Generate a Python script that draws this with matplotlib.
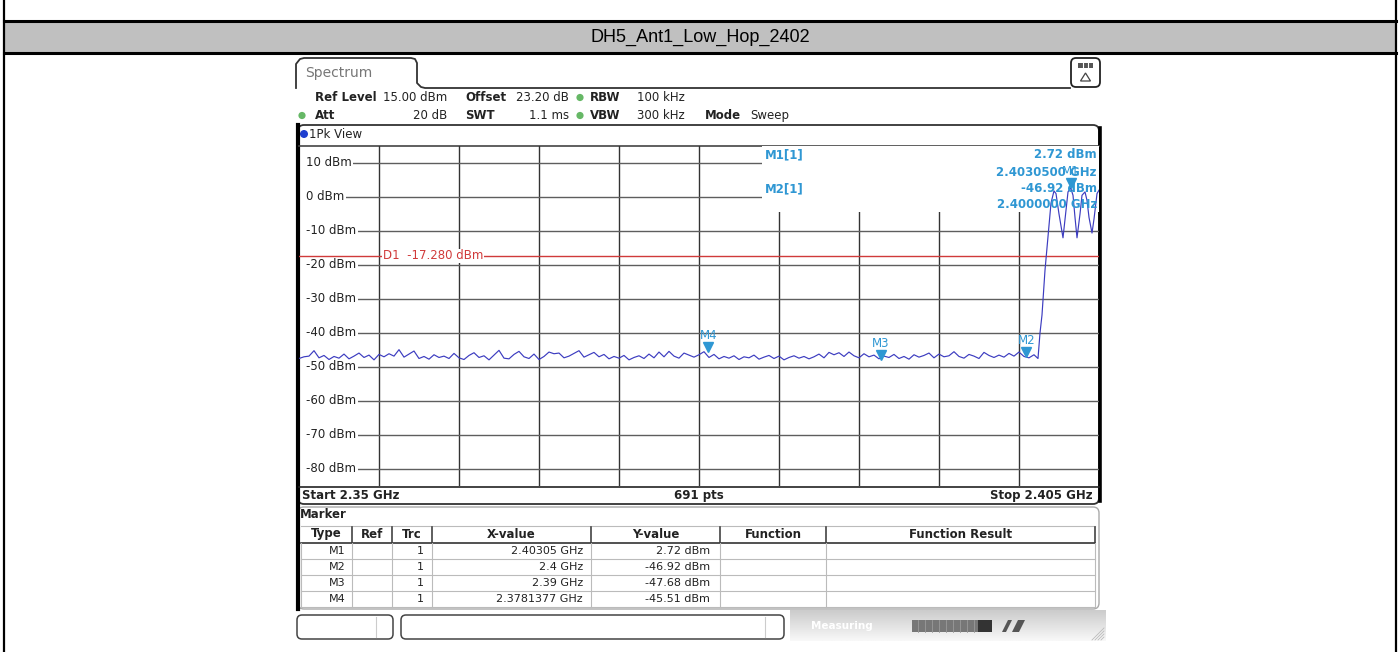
import numpy as np
import matplotlib
matplotlib.use('Agg')
import matplotlib.pyplot as plt
from matplotlib.patches import Rectangle, FancyBboxPatch, Circle, Polygon
from matplotlib.transforms import offset_copy, blended_transform_factory

# ---- data ----
title = 'DH5_Ant1_Low_Hop_2402'

f_start = 2.35      # GHz
f_stop = 2.405      # GHz
ref_level = 15.0    # dBm
range_db = 100.0
y_ticks = [10, 0, -10, -20, -30, -40, -50, -60, -70, -80]
d1_level = -17.28

# noise floor, equally spaced sweep points from 2.35 GHz up to noise_stop
noise_stop = 2.40053
noise_dbm = [
    -47.5, -47.0, -46.8, -45.2, -47.3, -46.6, -47.8, -46.9, -47.4, -46.2,
    -47.6, -46.8, -45.9, -47.2, -46.5, -47.9, -46.3, -47.0, -46.1, -46.8,
    -44.9, -47.1, -46.2, -45.3, -47.5, -46.9, -47.7, -46.4, -47.2, -46.8,
    -47.5, -46.0, -47.3, -47.8, -46.6, -45.8, -47.2, -46.7, -47.9, -46.5,
    -45.1, -47.4, -47.6, -46.3, -45.4, -47.0, -47.5, -46.2, -47.8, -46.9,
    -45.6, -46.1, -45.9, -47.3, -46.8, -46.0, -45.2, -47.1, -46.4, -45.7,
    -47.0, -46.3, -47.6, -46.9, -47.4, -46.6, -47.9, -47.2, -46.7, -47.5,
    -46.2, -47.3, -45.6, -47.0, -45.4, -46.8, -47.4, -45.9, -46.5, -47.1,
    -46.4, -45.5, -47.2, -46.3, -47.6, -46.9, -47.4, -46.7, -47.8, -47.0,
    -47.3, -46.5, -47.7, -47.1, -46.6, -47.5, -46.8, -47.9, -47.2, -46.7,
    -47.4, -46.9, -47.6, -47.0, -46.2, -47.3, -45.7, -46.4, -45.8, -46.9,
    -45.6, -46.7, -47.3, -46.1, -47.0, -46.5, -47.6, -46.8, -47.2, -46.3,
    -47.5, -46.9, -47.7, -46.4, -47.1, -46.6, -45.9, -47.3, -46.2, -47.0,
    -46.7, -45.5, -46.9, -47.4, -46.3, -46.8, -47.5, -45.7, -46.6, -47.2,
    -46.5, -47.1, -46.0, -46.8, -45.6, -46.9, -47.3, -46.4,
]

# band edge and the hopping channels above 2.4 GHz
edge_ghz = [2.400806, 2.400944, 2.401081, 2.401288, 2.401494, 2.401700,
            2.401906, 2.402044, 2.402250, 2.402525, 2.402731, 2.402869,
            2.403050, 2.403213, 2.403350, 2.403488, 2.403694, 2.403831,
            2.404038, 2.404175, 2.404313, 2.404519, 2.404656, 2.404863,
            2.405000]
edge_dbm = [-47.5, -40.0, -34.7, -21.5, -11.8, -1.8,
            1.8, 1.0, -5.0, -12.0, -4.0, 1.5,
            2.72, 0.5, -6.0, -12.0, -5.0, 0.5,
            1.5, -1.0, -6.0, -10.6, -6.5, 1.0,
            2.0]

marker_names = ['M1', 'M2', 'M3', 'M4']
marker_ghz = [2.40305, 2.4, 2.39, 2.3781377]
marker_dbm = [2.72, -46.92, -47.68, -45.51]
marker_x_text = ['2.40305 GHz', '2.4 GHz', '2.39 GHz', '2.3781377 GHz']
marker_y_text = ['2.72 dBm', '-46.92 dBm', '-47.68 dBm', '-45.51 dBm']

MK = '#2f97d3'
TRACE = '#3c3cc0'
GREEN = '#66b866'
FONT = 'DejaVu Sans'

fig = plt.figure(figsize=(14, 6.52), dpi=100)
bg = fig.add_axes([0, 0, 1, 1])
bg.set_xlim(0, 1400)
bg.set_ylim(652, 0)
bg.axis('off')


def txt(x, y, s, size=8.5, weight='normal', color='#222222', ha='left', **kw):
    bg.text(x, y, s, fontsize=size, fontweight=weight, color=color, ha=ha,
            va='center', family=FONT, **kw)


# ---- document table around the screenshot ----
bg.add_patch(Rectangle((4, 21), 1392, 32, fc='#c0c0c0', ec='none'))
bg.plot([4, 1396], [21, 21], color='k', lw=2.2)
bg.plot([4, 1396], [53, 53], color='k', lw=2.2)
bg.plot([4, 4], [0, 652], color='k', lw=1.6)
bg.plot([1396, 1396], [0, 652], color='k', lw=1.6)
bg.text(700, 37.5, title, ha='center', va='center', fontsize=13,
        family=['Liberation Sans Narrow', 'Liberation Sans'])

# ---- "Spectrum" tab and settings header ----
tab_x = [296, 296, 300, 304, 411, 415, 417, 417, 421, 425, 1070]
tab_y = [88, 64, 59, 58, 58, 59, 63, 83, 87, 88, 88]
bg.plot(tab_x, tab_y, color='#333333', lw=1.3)
txt(305, 73, 'Spectrum', size=10, color='#777777')
bg.add_patch(FancyBboxPatch((1071, 58), 29, 29,
             boxstyle='round,pad=0,rounding_size=5',
             fc='white', ec='#222222', lw=1.3))
bg.add_patch(Rectangle((1078, 63), 15, 5, fc='#555555', ec='none'))
for xs in (1083, 1088):
    bg.plot([xs, xs], [63, 68], color='white', lw=0.8)
bg.add_patch(Polygon([[1080.5, 81], [1090.5, 81], [1085.5, 73]],
             closed=True, fc='white', ec='#444444', lw=0.9))

row1, row2 = 97.5, 115.5
txt(315, row1, 'Ref Level', weight='bold')
txt(447, row1, '15.00 dBm', ha='right')
txt(465, row1, 'Offset', weight='bold')
txt(569, row1, '23.20 dB', ha='right')
txt(590, row1, 'RBW', weight='bold')
txt(637, row1, '100 kHz')
txt(315, row2, 'Att', weight='bold')
txt(447, row2, '20 dB', ha='right')
txt(465, row2, 'SWT', weight='bold')
txt(569, row2, '1.1 ms', ha='right')
txt(590, row2, 'VBW', weight='bold')
txt(637, row2, '300 kHz')
txt(705, row2, 'Mode', weight='bold')
txt(750, row2, 'Sweep')
for cx, cy in [(580, row1), (580, row2), (302, row2)]:
    bg.add_patch(Circle((cx, cy), 3.6, fc=GREEN, ec='none'))

# ---- diagram frame ----
bg.add_patch(FancyBboxPatch((298, 125), 801, 379,
             boxstyle='round,pad=0,rounding_size=6',
             fc='white', ec='#333333', lw=1.3))
bg.plot([298, 298], [125, 609], color='k', lw=3.0)
bg.plot([1099.5, 1099.5], [128, 501], color='k', lw=2.6)
bg.plot([299, 1099], [145.5, 145.5], color='#444444', lw=1.2)
bg.plot([299, 1099], [486.5, 486.5], color='#222222', lw=1.2)
bg.add_patch(Circle((304, 134), 4, fc='#1f3fd0', ec='none'))
txt(309, 134, '1Pk View', size=8.5)
txt(302, 495.5, 'Start 2.35 GHz', weight='bold')
txt(699, 495.5, '691 pts', weight='bold', ha='center')
txt(1093, 495.5, 'Stop 2.405 GHz', weight='bold', ha='right')

# ---- trace axes ----
ax = fig.add_axes([299 / 1400, 1 - 486 / 652, 800 / 1400, 340 / 652])
ax.set_zorder(2)
ax.patch.set_alpha(0)
ax.set_xlim(f_start, f_stop)
ax.set_ylim(ref_level - range_db, ref_level)
ax.axis('off')

div = (f_stop - f_start) / 10
px = (f_stop - f_start) / 800
for k in range(1, 10):
    ax.axvline(f_start + k * div, color='#333333', lw=1.0, zorder=1)
# level lines start right after their labels
ax.hlines(y_ticks, f_start + 8 * px, f_stop, color='#5e5e5e', lw=1.0, zorder=1)
# marker info field hides the grid behind it
ax.add_patch(Rectangle((463 / 800, 1 - 66 / 340), 337 / 800, 66 / 340,
             transform=ax.transAxes, fc='white', ec='none', zorder=1.5))

ytr = blended_transform_factory(ax.transAxes, ax.transData)
for yv in y_ticks:
    ax.text(0.009, yv, f'{yv} dBm', transform=ytr, ha='left', va='center',
            fontsize=8.5, family=FONT, color='#222222', zorder=2,
            bbox=dict(fc='white', ec='none', pad=1.0))

ax.axhline(d1_level, color='#d03a3a', lw=1.0, zorder=2)
ax.text(84 / 800, d1_level, f'D1  {d1_level:.3f} dBm', transform=ytr,
        ha='left', va='center', fontsize=8.5, family=FONT, color='#d03a3a',
        zorder=2.2, bbox=dict(fc='white', ec='none', pad=0.4))

trace_f = np.concatenate([np.linspace(f_start, noise_stop, len(noise_dbm)), edge_ghz])
trace_v = np.concatenate([noise_dbm, edge_dbm])
ax.plot(trace_f, trace_v, color=TRACE, lw=0.85, zorder=3)

tri_tr = offset_copy(ax.transData, fig=fig, x=0, y=3.3, units='points')
lab_tr = offset_copy(ax.transData, fig=fig, x=0, y=11.5, units='points')
ax.plot(marker_ghz, marker_dbm, 'v', ms=6.5, color=MK, transform=tri_tr,
        zorder=4, clip_on=False)
for name, fg, fv in zip(marker_names, marker_ghz, marker_dbm):
    ax.text(fg, fv, name, transform=lab_tr, ha='center', va='center',
            fontsize=8.5, family=FONT, color=MK, zorder=4)

# marker info field
top = fig.add_axes([0, 0, 1, 1])
top.set_zorder(5)
top.patch.set_alpha(0)
top.set_xlim(0, 1400)
top.set_ylim(652, 0)
top.axis('off')
info = [(155, 'M1[1]', f'{marker_dbm[0]:.2f} dBm'),
        (172, None, f'{marker_ghz[0]:.7f} GHz'),
        (188.5, 'M2[1]', f'{marker_dbm[1]:.2f} dBm'),
        (205, None, f'{marker_ghz[1]:.7f} GHz')]
for yy, left, right in info:
    if left:
        top.text(765, yy, left, ha='left', va='center', fontsize=8.5,
                 fontweight='bold', family=FONT, color=MK)
    top.text(1097, yy, right, ha='right', va='center', fontsize=8.5,
             fontweight='bold', family=FONT, color=MK)

# ---- marker table ----
bg.add_patch(FancyBboxPatch((298, 507), 801, 102,
             boxstyle='round,pad=0,rounding_size=6',
             fc='white', ec='#aaaaaa', lw=1.0))
txt(300, 515, 'Marker', weight='bold')
seps = [352, 392, 432, 591, 720, 826, 1095]
hdr_y = 534
bg.plot([301, 1095], [526, 526], color='#bbbbbb', lw=0.8)
bg.plot([301, 1095], [542.5, 542.5], color='#333333', lw=1.2)
for sx in seps:
    bg.plot([sx, sx], [527, 542], color='#333333', lw=1.1)
    bg.plot([sx, sx], [543, 607], color='#bbbbbb', lw=0.8)
bg.plot([301, 301], [543, 607], color='#bbbbbb', lw=0.8)
headers = ['Type', 'Ref', 'Trc', 'X-value', 'Y-value', 'Function', 'Function Result']
col_l = [301] + seps[:-1]
for h, l, r in zip(headers, col_l, seps):
    txt((l + r) / 2, hdr_y, h, weight='bold', ha='center')

row_y = [551, 567, 583, 599]
for ly in [559, 575, 591, 607]:
    bg.plot([301, 1095], [ly, ly], color='#bbbbbb', lw=0.8)
for ry, name, xs, ys in zip(row_y, marker_names, marker_x_text, marker_y_text):
    txt(346, ry, name, size=8, ha='right')
    txt(424, ry, '1', size=8, ha='right')
    txt(583, ry, xs, size=8, ha='right')
    txt(710, ry, ys, size=8, ha='right')

# ---- status bar ----
bg.add_patch(FancyBboxPatch((297, 615), 96, 24,
             boxstyle='round,pad=0,rounding_size=5',
             fc='white', ec='#444444', lw=1.1))
bg.add_patch(FancyBboxPatch((401, 615), 383, 24,
             boxstyle='round,pad=0,rounding_size=5',
             fc='white', ec='#444444', lw=1.1))
bg.plot([376, 376], [617, 637], color='#cccccc', lw=0.8)
bg.plot([765, 765], [617, 637], color='#cccccc', lw=0.8)
grad = np.linspace(0.80, 0.97, 30).reshape(-1, 1)
bg.imshow(np.repeat(grad, 2, axis=1), cmap='gray', vmin=0, vmax=1,
          extent=(790, 1106, 641, 610), aspect='auto', zorder=0.5)
txt(842, 626, 'Measuring', size=7.5, color='white', ha='center', weight='bold')
bg.add_patch(Rectangle((912, 620), 66, 12, fc='#777777', ec='none'))
for sx in range(918, 978, 7):
    bg.plot([sx, sx], [620, 632], color='#9a9a9a', lw=0.6)
bg.add_patch(Rectangle((978, 620), 14, 12, fc='#333333', ec='none'))
bg.add_patch(Polygon([[1002, 632], [1008, 620], [1012, 620], [1006, 632]],
             closed=True, fc='#555555', ec='none'))
bg.add_patch(Polygon([[1012, 632], [1018, 620], [1025, 620], [1019, 632]],
             closed=True, fc='#555555', ec='none'))
for k in range(4):
    bg.plot([1092 + 3 * k, 1104], [640, 628 + 3 * k], color='#bbbbbb', lw=0.6)

fig.savefig('out.png', dpi=100)
